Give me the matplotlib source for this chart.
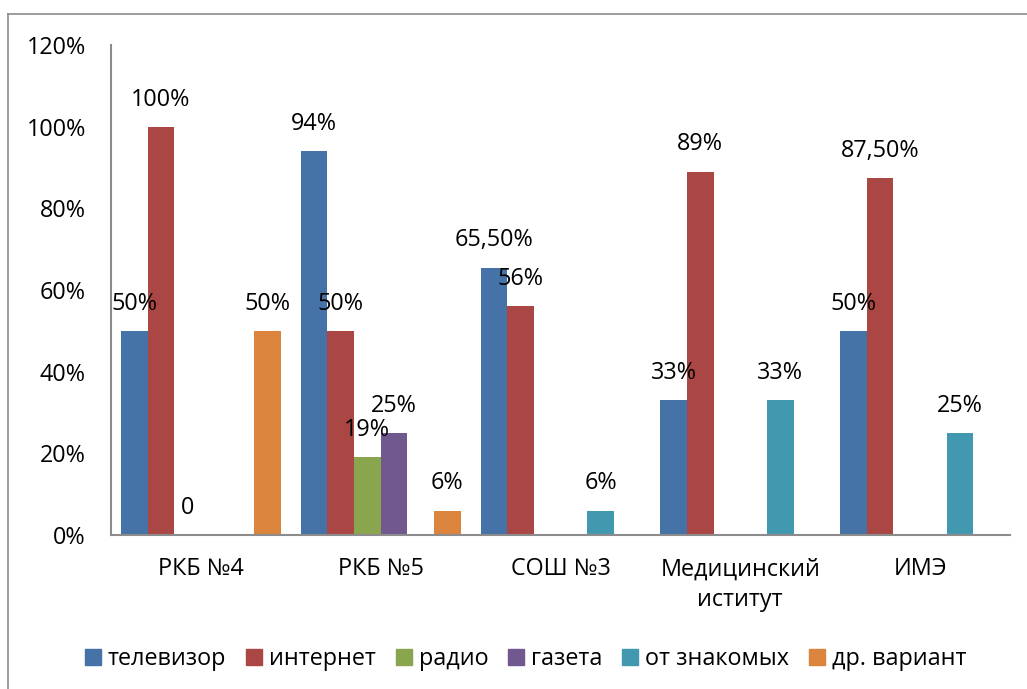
import numpy as np
import matplotlib.pyplot as plt
from matplotlib.lines import Line2D

# data
categories = ['РКБ №4', 'РКБ №5', 'СОШ №3', 'Медицинский\nиститут', 'ИМЭ']
series_names = ['телевизор', 'интернет', 'радио', 'газета', 'от знакомых', 'др. вариант']
tv = [0.50, 0.94, 0.655, 0.33, 0.50]
internet = [1.00, 0.50, 0.56, 0.89, 0.875]
radio = [0, 0.19, None, None, None]
gazeta = [None, 0.25, None, None, None]
znakomye = [None, None, 0.06, 0.33, 0.25]
other = [0.50, 0.06, None, None, None]
colors = ['#4572A7', '#AA4643', '#89A54E', '#71588F', '#4198AF', '#DB843D']

plt.rcParams['font.family'] = ['Open Sans', 'DejaVu Sans']
fs = 16.8


def fmt(v):
    # excel style labels
    if v == 0:
        return '0'
    pct = v * 100
    if abs(pct - round(pct)) < 1e-9:
        return f'{pct:.0f}%'
    return f'{pct:.2f}%'.replace('.', ',')


fig = plt.figure(figsize=(10.27, 6.89), dpi=100)
ax = fig.add_axes([111/1027, 1-535/689, (1010-111)/1027, (535-45)/689])

all_series = [tv, internet, radio, gazeta, znakomye, other]
n = len(all_series)
w = 1 / (n + 0.75)
x = np.arange(len(categories))

for j, (vals, c) in enumerate(zip(all_series, colors)):
    pos = x + (j - (n - 1) / 2) * w
    for xi, v in zip(pos, vals):
        if v is None:
            continue
        ax.bar(xi, v, width=w, color=c, edgecolor='none')
        ax.annotate(fmt(v), (xi, v), xytext=(0, 19.5), textcoords='offset points',
                    ha='center', va='center', fontsize=fs)

ax.set_xlim(-0.5, len(categories) - 0.5)
ax.set_ylim(0, 1.2)
ax.set_yticks(np.arange(0, 1.21, 0.2))
ax.set_yticklabels([f'{int(round(t*100))}%' for t in np.arange(0, 1.21, 0.2)], fontsize=fs)
ax.set_xticks(x)
ax.set_xticklabels(categories, fontsize=fs, linespacing=1.4)
ax.tick_params(axis='y', length=0, pad=18)
ax.tick_params(axis='x', length=0, pad=16)
for s in ['top', 'right']:
    ax.spines[s].set_visible(False)
for s in ['left', 'bottom']:
    ax.spines[s].set_color('#8c8c8c')
    ax.spines[s].set_linewidth(1.5)

handles = [Line2D([], [], marker='s', linestyle='none', markersize=11, color=c) for c in colors]
fig.legend(handles, series_names, loc='center', bbox_to_anchor=(526/1027, 1-659/689),
           ncol=6, frameon=False, fontsize=fs, handlelength=0.65, handletextpad=0.3,
           columnspacing=0.88)

# outer chart frame
fig.add_artist(Line2D([8/1027, 1.0], [1-14/689, 1-14/689], color='#8c8c8c', lw=1.2))
fig.add_artist(Line2D([8/1027, 8/1027], [1-14/689, 0], color='#8c8c8c', lw=1.2))

plt.savefig('out.png', dpi=100)
